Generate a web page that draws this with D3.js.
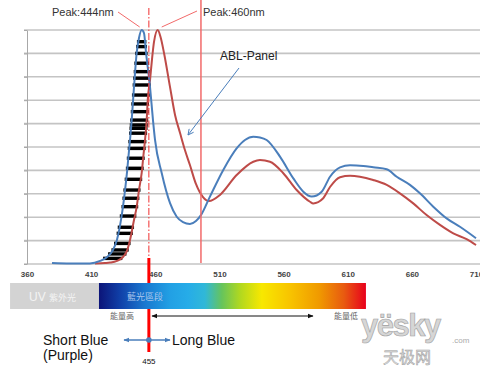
<!DOCTYPE html>
<html>
<head>
<meta charset="utf-8">
<script src="https://cdn.jsdelivr.net/npm/d3@7"></script>
<style>
  body { margin: 0; background: #fff; }
  svg { display: block; font-family: "Liberation Sans", Arial, sans-serif; }
</style>
</head>
<body>
<div id="chart-area"></div>
<script>
// wavelength ticks along the bottom
let tickValues = [360, 410, 460, 510, 560, 610, 660, 710]
let gridValues = [0, 0.1, 0.2, 0.3, 0.4, 0.5, 0.6, 0.7, 0.8, 0.9, 1]

// blue curve (reference LED spectrum)
let blueWl  = [379.5, 393.5, 409, 417, 422.4, 427, 430.1, 434.8, 437.9, 440.3, 441.6, 443.4, 445.5, 447.3, 449.4,
               451.2, 452.8, 455.9, 458.2, 459.8, 465, 471.5, 476.7, 481.6, 487, 491.7, 495.6, 502.6, 513, 523.4,
               529.9, 536.4, 541.6, 546.8, 557.2, 567.6, 575.4, 581.9, 589.7, 596.2, 604, 611.8, 622.1, 629.9,
               640.4, 648.2, 658.5, 666.3, 676.7, 687.1, 697.5, 710]
let blueVal = [0.004, 0.002, 0.002, 0.013, 0.03, 0.06, 0.103, 0.244, 0.389, 0.53, 0.615, 0.756, 0.902, 0.966, 1.0,
               0.987, 0.902, 0.756, 0.615, 0.53, 0.389, 0.26, 0.202, 0.179, 0.171, 0.184, 0.209, 0.288, 0.402, 0.494,
               0.53, 0.544, 0.541, 0.53, 0.459, 0.366, 0.309, 0.288, 0.309, 0.373, 0.413, 0.422, 0.419, 0.413,
               0.405, 0.373, 0.338, 0.302, 0.245, 0.195, 0.159, 0.11]

// red curve (ABL panel)
let redWl  = [413, 420.8, 424.7, 430.1, 434.8, 437.9, 440.3, 443.4, 445.5, 447.3, 449.4, 450.8, 452, 453.3, 454.1,
              455.9, 457.4, 459, 461.9, 464.1, 466.8, 471.5, 475.4, 479.3, 483.1, 487, 491.7, 497.2, 501.9, 510.4, 523.4,
              536.4, 541.6, 549.4, 559.8, 570.2, 580.6, 583.1, 590.9, 596.2, 604, 611.8, 619.5, 629.9, 640.4,
              650.7, 661.1, 671.5, 681.9, 692.3, 702.7, 710]
let redVal = [0.002, 0.004, 0.006, 0.013, 0.03, 0.056, 0.103, 0.188, 0.244, 0.316, 0.389, 0.466, 0.53, 0.615, 0.701,
              0.786, 0.872, 0.949, 1.0, 0.97, 0.902, 0.756, 0.637, 0.56, 0.487, 0.423, 0.342, 0.286, 0.269, 0.295, 0.38,
              0.437, 0.444, 0.437, 0.388, 0.316, 0.266, 0.259, 0.281, 0.329, 0.371, 0.377, 0.373, 0.359, 0.338,
              0.302, 0.259, 0.209, 0.167, 0.131, 0.106, 0.081]

// hatch levels inside the short-blue peak
let hatchLevels = [0.95, 0.929, 0.9, 0.858, 0.822, 0.794, 0.765, 0.722, 0.684, 0.651, 0.615, 0.594, 0.58, 0.559,
                   0.523, 0.494, 0.452, 0.409, 0.362, 0.316, 0.281, 0.245, 0.205, 0.157, 0.131, 0.088, 0.06, 0.043, 0.024]

let cutWl = 455        // dash-dot divider
let ablWl = 495.6      // solid red marker
let bluePeakWl = 449.4
let redPeakWl = 461.9

// spectrum strip
let specStart = 346.8, specUvEnd = 416.1, specEnd = 624.2
let specStops = [0, 0.079, 0.172, 0.266, 0.333, 0.397, 0.46, 0.528, 0.61, 0.715, 0.824, 0.918, 1]
let specColors = ["#0c1478", "#1040a8", "#1a78d0", "#22a0e4", "#26ace8", "#30b8d8", "#66c45c",
                  "#b0d820", "#f8e800", "#f8c400", "#f09a00", "#e85a10", "#e8001c"]

let width = 480, height = 369

let svg = d3.select("#chart-area").append("svg")
  .attr("width", width).attr("height", height)

let x = d3.scaleLinear().domain([360, 710]).range([27, 476])
let y = d3.scaleLinear().domain([0, 1]).range([264, 30])

let defs = svg.append("defs")
function marker(id, color, open) {
  let m = defs.append("marker").attr("id", id)
    .attr("viewBox", "0 0 10 10").attr("refX", 9).attr("refY", 5)
    .attr("markerWidth", open ? 7 : 6).attr("markerHeight", open ? 7 : 6)
    .attr("markerUnits", "userSpaceOnUse").attr("orient", "auto-start-reverse")
  if (open) m.append("path").attr("d", "M1,1 L9,5 L1,9").attr("fill", "none").attr("stroke", color).attr("stroke-width", 1.3)
  else m.append("path").attr("d", "M0,1 L10,5 L0,9 Z").attr("fill", color)
}
marker("arrOpen", "#4a7ebb", true)
marker("arrBlack", "#111", false)
marker("arrBlue", "#4a7ebb", false)

let grad = defs.append("linearGradient").attr("id", "spec")
  .attr("gradientUnits", "userSpaceOnUse")
  .attr("x1", x(specUvEnd)).attr("x2", x(specEnd)).attr("y1", 0).attr("y2", 0)
grad.selectAll("stop").data(specStops).enter().append("stop")
  .attr("offset", d => d).attr("stop-color", (d, i) => specColors[i])

// gridlines
svg.append("g").selectAll("line").data(gridValues).enter().append("line")
  .attr("x1", 24).attr("x2", width)
  .attr("y1", d => y(d)).attr("y2", d => y(d))
  .attr("stroke", "#c4c4c4").attr("stroke-width", 1.6)

// left axis, no labels
let leftAxis = d3.axisLeft(y).tickValues(gridValues).tickSize(3).tickSizeOuter(0).tickFormat("")
let la = svg.append("g").attr("transform", "translate(27,0)").call(leftAxis)
la.selectAll("path, line").attr("stroke", "#a8a8a8")

// bottom tick labels
let bottomAxis = d3.axisBottom(x).tickValues(tickValues).tickSize(0).tickPadding(7).tickFormat(d => d)
let ba = svg.append("g").attr("transform", "translate(0,264)").call(bottomAxis)
ba.select(".domain").remove()
ba.selectAll("text").attr("font-size", 8).attr("font-weight", "bold").attr("fill", "#444")
  .attr("font-family", "'Liberation Sans', Arial, sans-serif")

// hatch strokes between blue rising edge and red rising edge
function crossing(wl, val, level, rising) {
  let peak = val.indexOf(d3.max(val))
  if (rising) {
    for (let i = 1; i <= peak; i++) {
      if (val[i] >= level) {
        let t = (level - val[i - 1]) / (val[i] - val[i - 1])
        return wl[i - 1] + t * (wl[i] - wl[i - 1])
      }
    }
  } else {
    for (let i = peak + 1; i < val.length; i++) {
      if (val[i] <= level) {
        let t = (val[i - 1] - level) / (val[i - 1] - val[i])
        return wl[i - 1] + t * (wl[i] - wl[i - 1])
      }
    }
  }
  return wl[peak]
}
svg.append("g").selectAll("line").data(hatchLevels).enter().append("line")
  .attr("x1", d => x(crossing(blueWl, blueVal, d, true)) - 1.5)
  .attr("x2", d => Math.min(x(crossing(blueWl, blueVal, d, false)), x(crossing(redWl, redVal, d, true))) + 1.5)
  .attr("y1", d => y(d)).attr("y2", d => y(d))
  .attr("stroke", "#000").attr("stroke-width", 3.4)

// curves
let line = d3.line().x(d => x(d[0])).y(d => y(d[1])).curve(d3.curveMonotoneX)
svg.append("path").datum(redWl.map((d, i) => [d, redVal[i]]))
  .attr("d", line).attr("fill", "none").attr("stroke", "#be4b48").attr("stroke-width", 2)
svg.append("path").datum(blueWl.map((d, i) => [d, blueVal[i]]))
  .attr("d", line).attr("fill", "none").attr("stroke", "#4a7ebb").attr("stroke-width", 2)

// solid red marker at ABL line
svg.append("line").attr("x1", x(ablWl)).attr("x2", x(ablWl)).attr("y1", 0).attr("y2", 263)
  .attr("stroke", "#f26a6a").attr("stroke-width", 1.5)

// dash-dot divider and thick lower part
svg.append("line").attr("x1", x(cutWl)).attr("x2", x(cutWl)).attr("y1", 8).attr("y2", 258)
  .attr("stroke", "#f03030").attr("stroke-width", 1).attr("stroke-dasharray", "7,2,1.5,2")
svg.append("line").attr("x1", x(cutWl)).attr("x2", x(cutWl)).attr("y1", 258).attr("y2", 352)
  .attr("stroke", "#ff0000").attr("stroke-width", 3)

// peak labels with leader lines
svg.append("text").attr("x", 52).attr("y", 16).attr("font-size", 11).attr("fill", "#333").text("Peak:444nm")
svg.append("text").attr("x", 203).attr("y", 16).attr("font-size", 11).attr("fill", "#333").text("Peak:460nm")
svg.append("line").attr("x1", 118).attr("y1", 12).attr("x2", x(bluePeakWl) - 2).attr("y2", y(1) - 3)
  .attr("stroke", "#f26a6a").attr("stroke-width", 1)
svg.append("line").attr("x1", 197).attr("y1", 11).attr("x2", x(redPeakWl) + 4).attr("y2", y(1) - 3)
  .attr("stroke", "#f26a6a").attr("stroke-width", 1)

// ABL-Panel callout
svg.append("text").attr("x", 220).attr("y", 60).attr("font-size", 12).attr("fill", "#222").text("ABL-Panel")
svg.append("line").attr("x1", 239).attr("y1", 68).attr("x2", 188).attr("y2", 135)
  .attr("stroke", "#4a7ebb").attr("stroke-width", 1).attr("marker-end", "url(#arrOpen)")

// spectrum strip
let sy = 283, sh = 26
svg.append("rect").attr("x", x(specStart)).attr("y", sy).attr("width", x(specUvEnd) - x(specStart)).attr("height", sh)
  .attr("fill", "#d3d3d3")
svg.append("rect").attr("x", x(specUvEnd)).attr("y", sy).attr("width", x(specEnd) - x(specUvEnd)).attr("height", sh)
  .attr("fill", "url(#spec)")
let uv = svg.append("text").attr("x", 29).attr("y", 301).attr("fill", "#f4f4f4")
uv.append("tspan").attr("font-size", 12).text("UV ")
uv.append("tspan").attr("font-size", 9).attr("font-family", "'Noto Sans CJK TC', sans-serif").text("紫外光")
svg.append("text").attr("x", 127).attr("y", 300).attr("font-size", 9).attr("fill", "#a9c6ec")
  .attr("font-family", "'Noto Sans CJK TC', sans-serif").text("藍光區段")

// energy arrow
svg.append("text").attr("x", 110).attr("y", 319).attr("font-size", 8).attr("fill", "#666")
  .attr("font-family", "'Noto Sans CJK TC', sans-serif").text("能量高")
svg.append("text").attr("x", 334).attr("y", 319).attr("font-size", 8).attr("fill", "#666")
  .attr("font-family", "'Noto Sans CJK TC', sans-serif").text("能量低")
svg.append("line").attr("x1", 152).attr("x2", 313).attr("y1", 316).attr("y2", 316)
  .attr("stroke", "#111").attr("stroke-width", 1)
  .attr("marker-start", "url(#arrBlack)").attr("marker-end", "url(#arrBlack)")

// short / long blue
svg.append("text").attr("x", 43).attr("y", 345).attr("font-size", 14).attr("fill", "#111").text("Short Blue")
svg.append("text").attr("x", 43).attr("y", 360).attr("font-size", 14).attr("fill", "#111").text("(Purple)")
svg.append("text").attr("x", 172).attr("y", 345).attr("font-size", 14).attr("fill", "#111").text("Long Blue")
svg.append("line").attr("x1", 124).attr("x2", 170).attr("y1", 340).attr("y2", 340)
  .attr("stroke", "#4a7ebb").attr("stroke-width", 1.5)
  .attr("marker-start", "url(#arrBlue)").attr("marker-end", "url(#arrBlue)")
svg.append("circle").attr("cx", x(cutWl)).attr("cy", 340).attr("r", 2.8).attr("fill", "#4a7ebb")
svg.append("text").attr("x", x(cutWl)).attr("y", 364).attr("font-size", 8).attr("text-anchor", "middle")
  .attr("fill", "#111").text(cutWl)

// watermark
svg.append("text").attr("x", 361).attr("y", 336).attr("font-size", 31).attr("font-weight", "bold")
  .attr("letter-spacing", -1.5).attr("fill", "#d6d6d6").attr("stroke", "#a0a0a0").attr("stroke-width", 0.6)
  .text("yësky")
svg.append("text").attr("x", 452).attr("y", 343).attr("font-size", 8).attr("fill", "#aaa").text(".com")
svg.append("text").attr("x", 383).attr("y", 363).attr("font-size", 16).attr("fill", "#dadada")
  .attr("stroke", "#a0a0a0").attr("stroke-width", 0.5)
  .attr("font-family", "'Noto Sans CJK SC', sans-serif").text("天极网")
</script>
</body>
</html>
